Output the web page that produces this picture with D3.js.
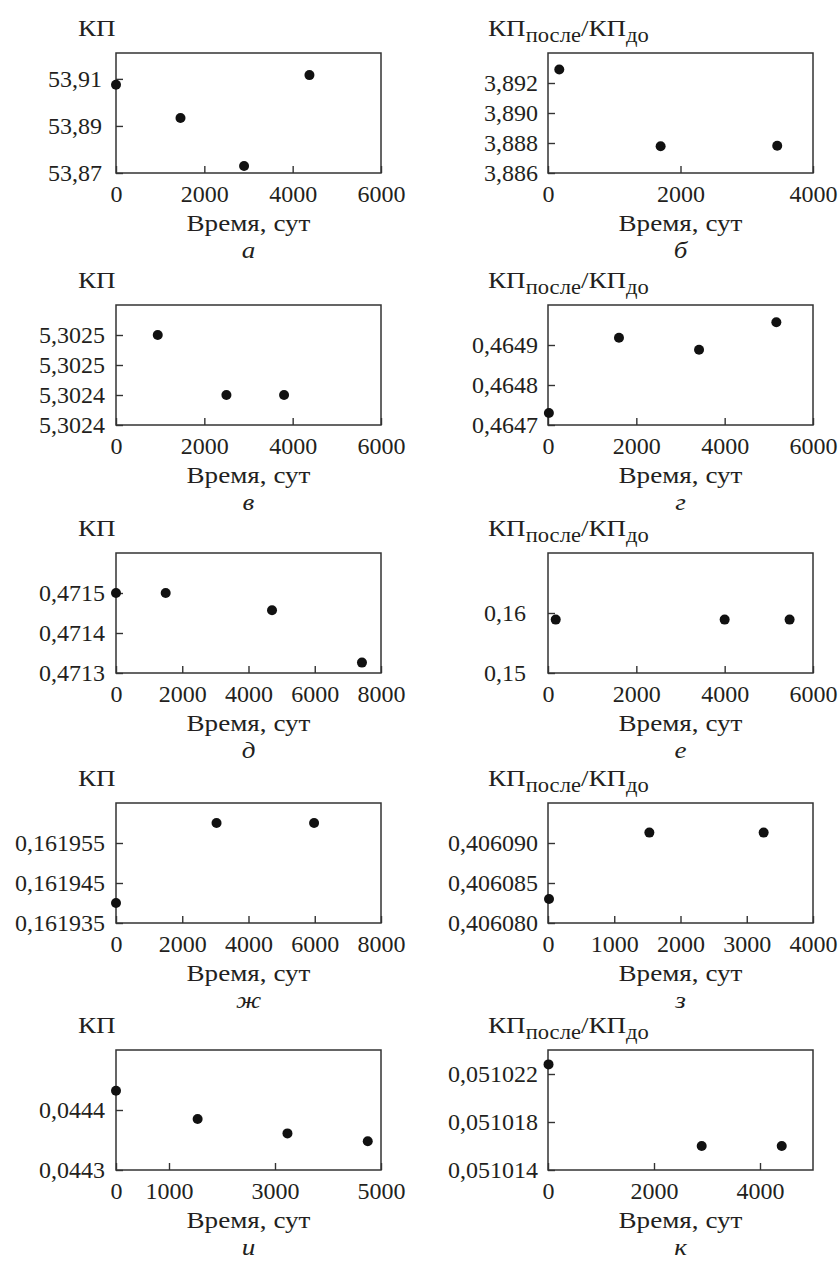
<!DOCTYPE html>
<html>
<head>
<meta charset="utf-8">
<script src="https://cdn.jsdelivr.net/npm/d3@7"></script>
<style>
    body { margin: 0; background: #fff; }
    text { font-family: "Liberation Serif", "Times New Roman", serif; fill: #231f20; }
</style>
</head>
<body>
<svg id="chart" width="840" height="1262"></svg>
<script>
// --- data ---
const panelLetters = ['а', 'б', 'в', 'г', 'д', 'е', 'ж', 'з', 'и', 'к'];
const titleKinds = ['kp', 'ratio', 'kp', 'ratio', 'kp', 'ratio', 'kp', 'ratio', 'kp', 'ratio'];

// а
const timeA = [0, 1460, 2900, 4380];
const valA = [53.9075, 53.8934, 53.8730, 53.9116];
const xDomA = [0, 6000];
const xTicksA = [0, 2000, 4000, 6000];
const yDomA = [53.87, 53.921];
const yTicksA = [53.87, 53.89, 53.91];
const yLabelsA = ['53,87', '53,89', '53,91'];

// б
const timeB = [170, 1700, 3460];
const valB = [3.8929, 3.88778, 3.88782];
const xDomB = [0, 4000];
const xTicksB = [0, 2000, 4000];
const yDomB = [3.886, 3.894];
const yTicksB = [3.886, 3.888, 3.890, 3.892];
const yLabelsB = ['3,886', '3,888', '3,890', '3,892'];

// в
const timeV = [945, 2500, 3805];
const valV = [5.30250, 5.30242, 5.30242];
const xDomV = [0, 6000];
const xTicksV = [0, 2000, 4000, 6000];
const yDomV = [5.30238, 5.30254];
const yTicksV = [5.30238, 5.30242, 5.30246, 5.30250];
const yLabelsV = ['5,3024', '5,3024', '5,3025', '5,3025'];

// г
const timeG = [20, 1607, 3420, 5170];
const valG = [0.46473, 0.464918, 0.464888, 0.464957];
const xDomG = [0, 6000];
const xTicksG = [0, 2000, 4000, 6000];
const yDomG = [0.4647, 0.4650];
const yTicksG = [0.4647, 0.4648, 0.4649];
const yLabelsG = ['0,4647', '0,4648', '0,4649'];

// д
const timeD = [0, 1500, 4710, 7425];
const valD = [0.47150, 0.47150, 0.471457, 0.471326];
const xDomD = [0, 8000];
const xTicksD = [0, 2000, 4000, 6000, 8000];
const yDomD = [0.4713, 0.4716];
const yTicksD = [0.4713, 0.4714, 0.4715];
const yLabelsD = ['0,4713', '0,4714', '0,4715'];

// е
const timeE = [175, 4000, 5470];
const valE = [0.1589, 0.1589, 0.1589];
const xDomE = [0, 6000];
const xTicksE = [0, 2000, 4000, 6000];
const yDomE = [0.15, 0.17];
const yTicksE = [0.15, 0.16];
const yLabelsE = ['0,15', '0,16'];

// ж
const timeZh = [0, 3035, 5980];
const valZh = [0.161940, 0.161960, 0.161960];
const xDomZh = [0, 8000];
const xTicksZh = [0, 2000, 4000, 6000, 8000];
const yDomZh = [0.161935, 0.161965];
const yTicksZh = [0.161935, 0.161945, 0.161955];
const yLabelsZh = ['0,161935', '0,161945', '0,161955'];

// з
const timeZ = [15, 1530, 3255];
const valZ = [0.406083, 0.4060913, 0.4060913];
const xDomZ = [0, 4000];
const xTicksZ = [0, 1000, 2000, 3000, 4000];
const yDomZ = [0.406080, 0.406095];
const yTicksZ = [0.406080, 0.406085, 0.406090];
const yLabelsZ = ['0,406080', '0,406085', '0,406090'];

// и
const timeI = [0, 1540, 3235, 4750];
const valI = [0.044432, 0.044385, 0.044361, 0.044348];
const xDomI = [0, 5000];
const xTicksI = [0, 1000, 3000, 5000];
const yDomI = [0.0443, 0.0445];
const yTicksI = [0.0443, 0.0444];
const yLabelsI = ['0,0443', '0,0444'];

// к
const timeK = [10, 2900, 4410];
const valK = [0.0510228, 0.051016, 0.051016];
const xDomK = [0, 5000];
const xTicksK = [0, 2000, 4000];
const yDomK = [0.051014, 0.051024];
const yTicksK = [0.051014, 0.051018, 0.051022];
const yLabelsK = ['0,051014', '0,051018', '0,051022'];

// --- layout ---
const COL_X = [116, 548];
const ROW_Y = [53, 305, 553, 803, 1050];
const BOX_W = 265;
const BOX_H = 120;
const TICK_LEN = 7;
const INK = '#231f20';
const FRAME = '#333';
// the Cyrillic captions in the source are set wider than Liberation Serif
const WIDE = 1.13;

const panels = [
    { time: timeA, val: valA, xDom: xDomA, xTicks: xTicksA, yDom: yDomA, yTicks: yTicksA, yLabels: yLabelsA, pad: 14 },
    { time: timeB, val: valB, xDom: xDomB, xTicks: xTicksB, yDom: yDomB, yTicks: yTicksB, yLabels: yLabelsB, pad: 10 },
    { time: timeV, val: valV, xDom: xDomV, xTicks: xTicksV, yDom: yDomV, yTicks: yTicksV, yLabels: yLabelsV, pad: 11 },
    { time: timeG, val: valG, xDom: xDomG, xTicks: xTicksG, yDom: yDomG, yTicks: yTicksG, yLabels: yLabelsG, pad: 10 },
    { time: timeD, val: valD, xDom: xDomD, xTicks: xTicksD, yDom: yDomD, yTicks: yTicksD, yLabels: yLabelsD, pad: 11 },
    { time: timeE, val: valE, xDom: xDomE, xTicks: xTicksE, yDom: yDomE, yTicks: yTicksE, yLabels: yLabelsE, pad: 22 },
    { time: timeZh, val: valZh, xDom: xDomZh, xTicks: xTicksZh, yDom: yDomZh, yTicks: yTicksZh, yLabels: yLabelsZh, pad: 11 },
    { time: timeZ, val: valZ, xDom: xDomZ, xTicks: xTicksZ, yDom: yDomZ, yTicks: yTicksZ, yLabels: yLabelsZ, pad: 10 },
    { time: timeI, val: valI, xDom: xDomI, xTicks: xTicksI, yDom: yDomI, yTicks: yTicksI, yLabels: yLabelsI, pad: 11 },
    { time: timeK, val: valK, xDom: xDomK, xTicks: xTicksK, yDom: yDomK, yTicks: yTicksK, yLabels: yLabelsK, pad: 10 },
];

const svg = d3.select('#chart');

function wideText(g, x, y) {
    return g.append('text')
        .attr('transform', `translate(${x},${y}) scale(${WIDE},1)`)
        .style('font-size', '24px');
}

panels.forEach((p, i) => {
    const col = i % 2;
    const row = Math.floor(i / 2);
    const g = svg.append('g')
        .attr('transform', `translate(${COL_X[col]},${ROW_Y[row]})`);

    const x = d3.scaleLinear().domain(p.xDom).range([0, BOX_W]);
    const y = d3.scaleLinear().domain(p.yDom).range([BOX_H, 0]);

    // ticks point inward, like the source
    const xAxis = g.append('g')
        .attr('transform', `translate(0,${BOX_H})`)
        .call(d3.axisBottom(x)
            .tickValues(p.xTicks)
            .tickFormat(d3.format('d'))
            .tickSizeInner(-TICK_LEN)
            .tickSizeOuter(0)
            .tickPadding(12));

    const yAxis = g.append('g')
        .call(d3.axisLeft(y)
            .tickValues(p.yTicks)
            .tickFormat((d, k) => p.yLabels[k])
            .tickSizeInner(-TICK_LEN)
            .tickSizeOuter(0)
            .tickPadding(p.pad));

    [xAxis, yAxis].forEach(ax => {
        ax.select('.domain').remove();
        ax.selectAll('line').attr('stroke', FRAME).attr('stroke-width', 1.4);
        ax.selectAll('text')
            .attr('fill', INK)
            .style('font-size', '24px')
            .style('font-family', '"Liberation Serif", "Times New Roman", serif');
    });

    g.append('rect')
        .attr('width', BOX_W)
        .attr('height', BOX_H)
        .attr('fill', 'none')
        .attr('stroke', FRAME)
        .attr('stroke-width', 1.5);

    g.selectAll('circle')
        .data(p.time.map((t, k) => [t, p.val[k]]))
        .enter()
        .append('circle')
        .attr('cx', d => x(d[0]))
        .attr('cy', d => y(d[1]))
        .attr('r', 5)
        .attr('fill', '#111');

    // axis title above the box
    if (titleKinds[i] === 'kp') {
        wideText(g, -38, -17).text('КП');
    } else {
        const title = wideText(g, -60, -17);
        title.append('tspan').text('КП');
        title.append('tspan').attr('dy', 6).style('font-size', '20px').text('после');
        title.append('tspan').attr('dy', -6).text('/КП');
        title.append('tspan').attr('dy', 6).style('font-size', '20px').text('до');
    }

    wideText(g, BOX_W / 2, BOX_H + 58)
        .attr('text-anchor', 'middle')
        .text('Время, сут');

    wideText(g, BOX_W / 2, BOX_H + 85)
        .attr('text-anchor', 'middle')
        .style('font-style', 'italic')
        .text(panelLetters[i]);
});
</script>
</body>
</html>
